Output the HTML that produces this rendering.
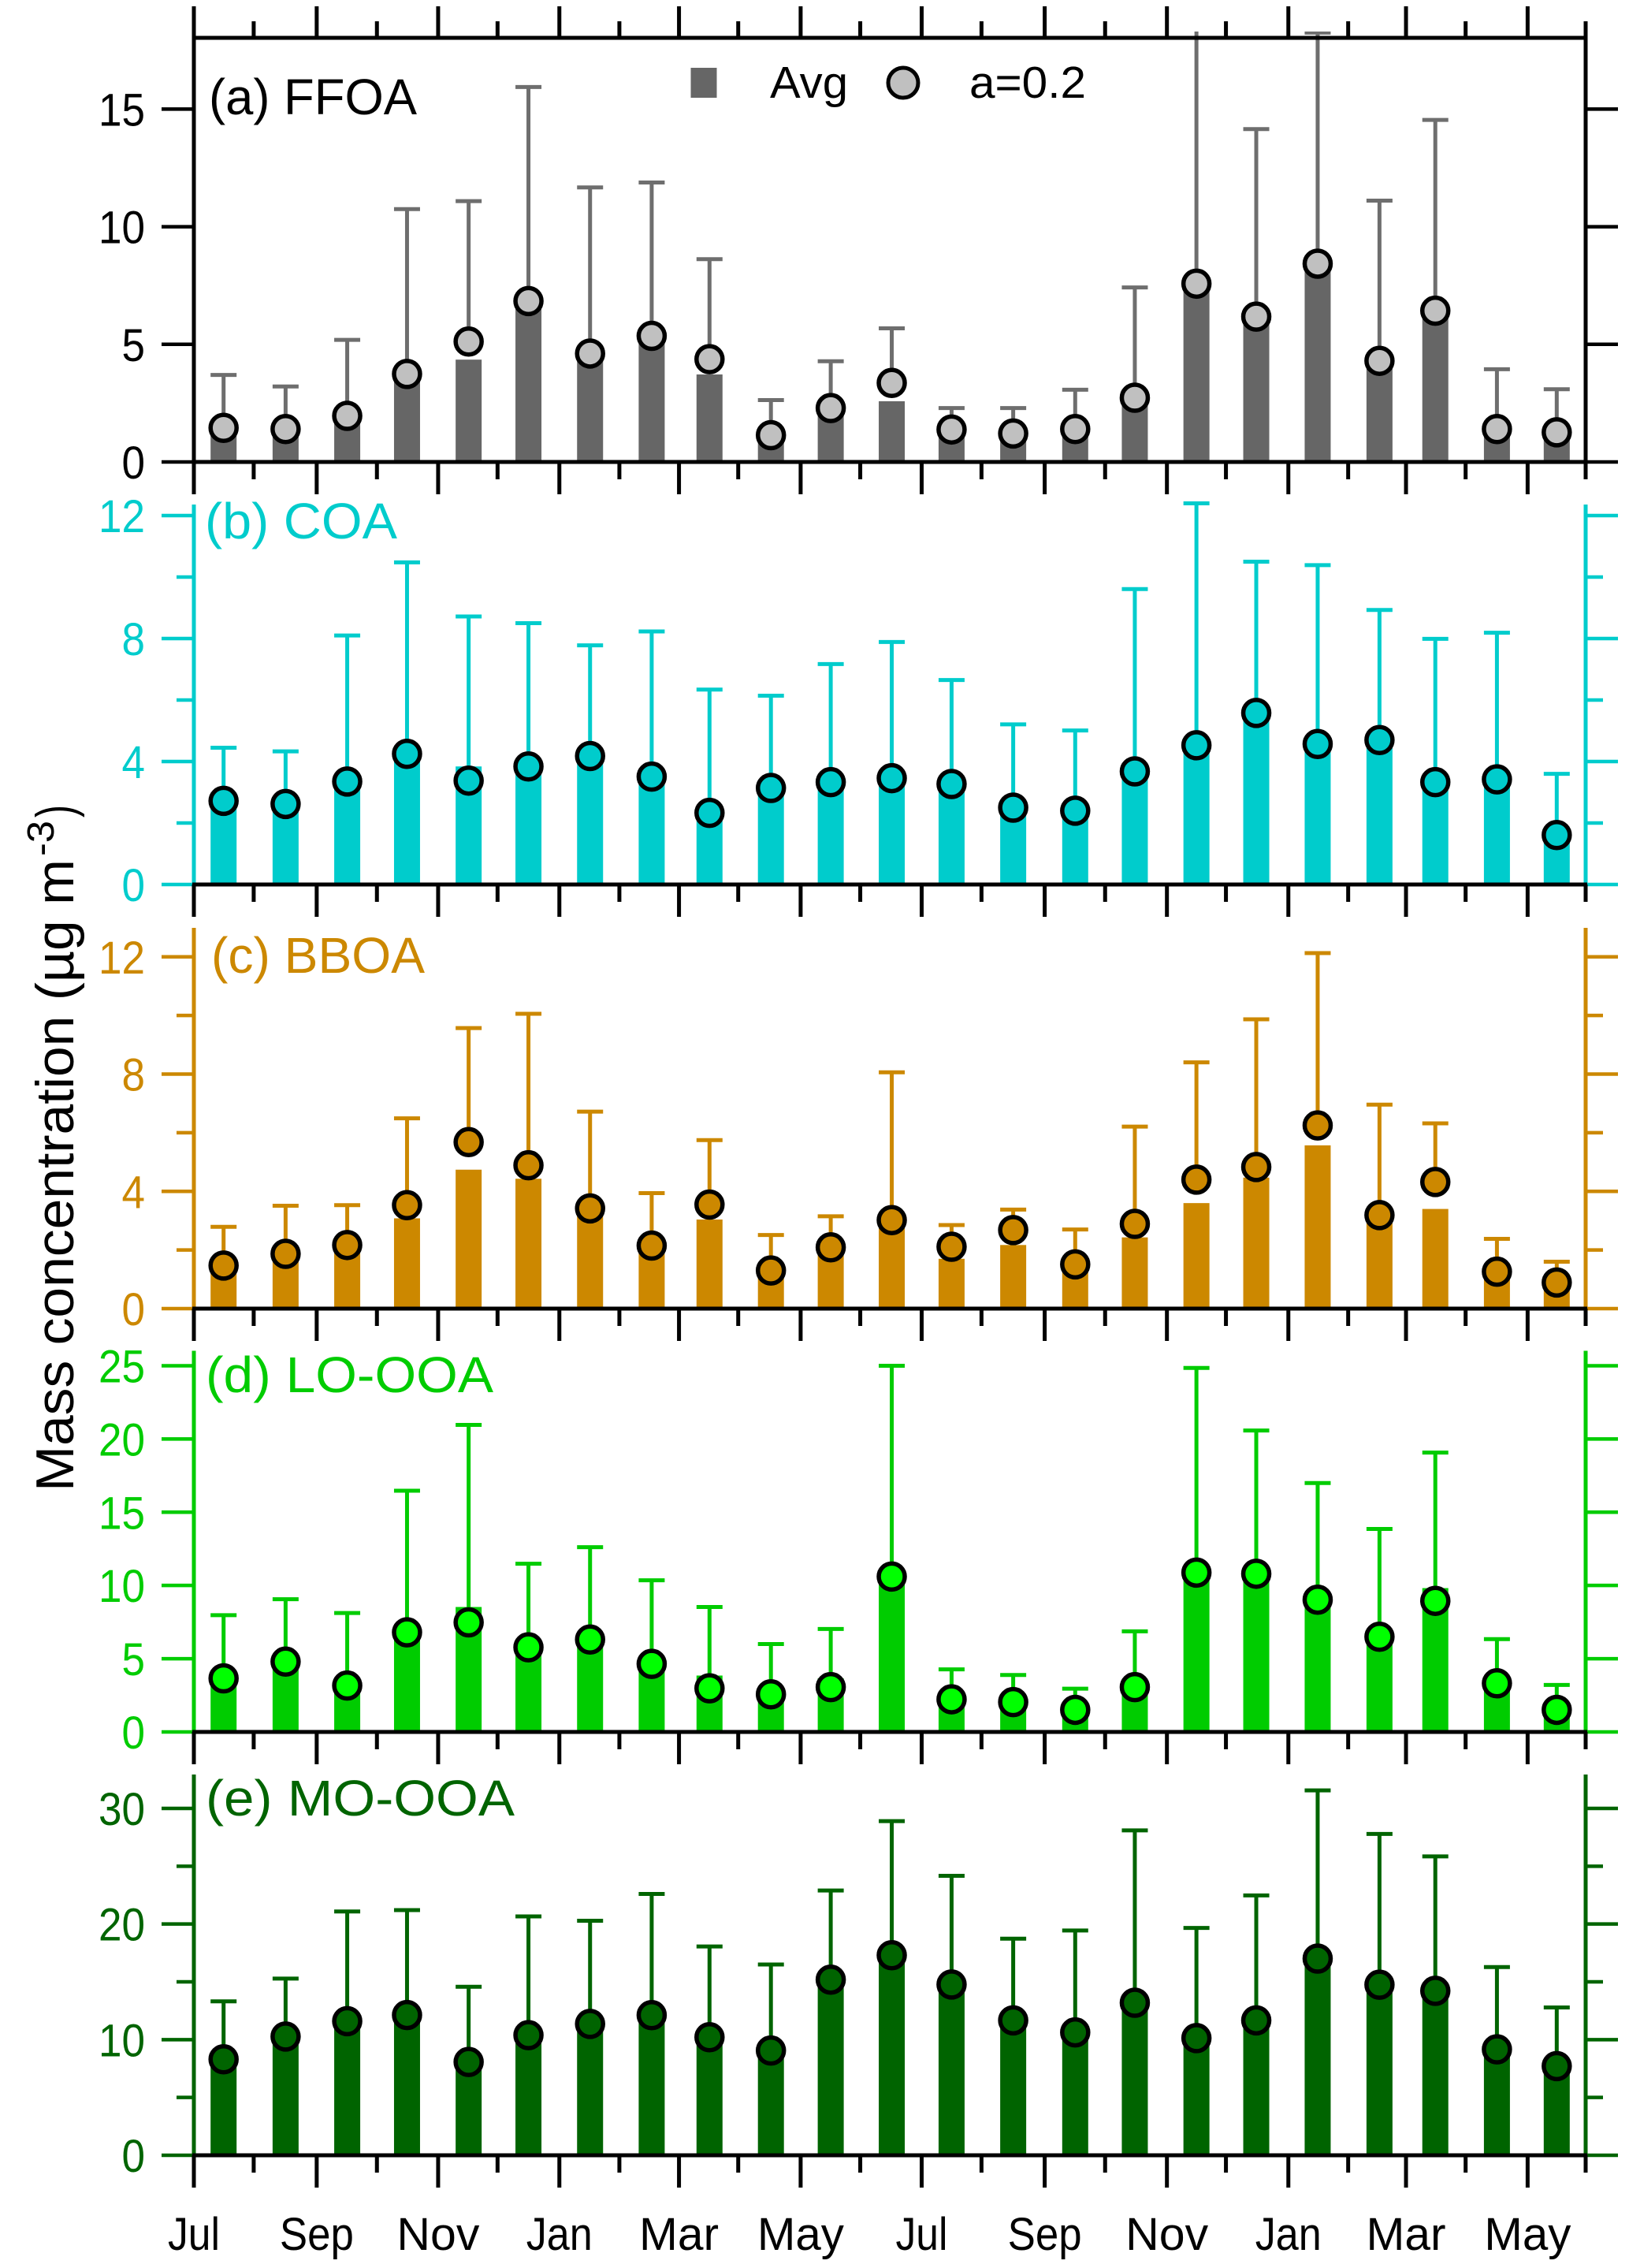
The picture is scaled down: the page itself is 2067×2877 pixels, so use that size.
<!DOCTYPE html>
<html lang="en">
<head>
<meta charset="utf-8">
<title>Monthly OA factor mass concentration</title>
<style>
html,body{margin:0;padding:0;background:#fff}
svg{display:block}
text{font-family:"Liberation Sans",sans-serif}
</style>
</head>
<body>
<svg id="chart" xmlns="http://www.w3.org/2000/svg" width="2067" height="2877" viewBox="0 0 2067 2877">
  <defs>
    <clipPath id="clip-a"><rect x="200" y="40" width="1860" height="600"/></clipPath>
  </defs>
  <rect x="0" y="0" width="2067" height="2877" fill="#ffffff"/>
  <g id="plot"></g>

  <text x="265" y="145" font-size="64" textLength="264" lengthAdjust="spacingAndGlyphs" fill="#000000">(a) FFOA</text>
  <text x="260" y="683" font-size="64" textLength="244" lengthAdjust="spacingAndGlyphs" fill="#00cccc">(b) COA</text>
  <text x="268" y="1234" font-size="64" textLength="271" lengthAdjust="spacingAndGlyphs" fill="#cc8800">(c) BBOA</text>
  <text x="261" y="1766" font-size="64" textLength="365" lengthAdjust="spacingAndGlyphs" fill="#00cc00">(d) LO-OOA</text>
  <text x="261" y="2303" font-size="64" textLength="392" lengthAdjust="spacingAndGlyphs" fill="#006400">(e) MO-OOA</text>

  <g>
    <rect x="876.5" y="86" width="33" height="38" fill="#666666"/>
    <text x="977" y="124" font-size="57" textLength="99" lengthAdjust="spacingAndGlyphs">Avg</text>
    <circle cx="1146" cy="105" r="19" fill="#c0c0c0" stroke="#000000" stroke-width="5"/>
    <text x="1230" y="124" font-size="57" textLength="148" lengthAdjust="spacingAndGlyphs">a=0.2</text>
  </g>

  <text transform="rotate(-90)" fill="#000000"><tspan x="-1892" y="93" font-size="68" textLength="802" lengthAdjust="spacingAndGlyphs">Mass concentration (µg m</tspan><tspan x="-1086" y="68" font-size="48" textLength="45" lengthAdjust="spacingAndGlyphs">-3</tspan><tspan x="-1037" y="93" font-size="68" textLength="16" lengthAdjust="spacingAndGlyphs">)</tspan></text>
</svg>

<script>
// ---- x axis data (days since the first July) ----
const months = ['Jul','Aug','Sep','Oct','Nov','Dec','Jan','Feb','Mar','Apr','May','Jun','Jul','Aug','Sep','Oct','Nov','Dec','Jan','Feb','Mar','Apr','May'];
const barDays = [14.9,46,76.9,106.9,137.8,167.8,198.7,229.6,258.6,289.4,319.4,350,380,410.9,442,471.9,502.8,532.8,563.6,594.6,622.6,653.5,683.5];
const tickDays = [0,30,61.6,91.8,122.5,152.3,183.3,213.4,243.3,273,304.3,334.2,365,395,426.7,457,488,517.6,548.9,578.9,607.9,637.8,668.9,698];
const tickLabels = ['Jul','','Sep','','Nov','','Jan','','Mar','','May','','Jul','','Sep','','Nov','','Jan','','Mar','','May',''];

// ---- series values ----
const ffoaAvg = [1.4,1.35,1.9,3.7,4.35,6.8,4.55,5.3,3.72,1.1,2.25,2.58,1.35,1.2,1.35,2.7,7.5,6.15,8.4,4.25,6.4,1.35,1.25];
const ffoaA02 = [1.45,1.40,1.96,3.74,5.12,6.84,4.61,5.36,4.37,1.14,2.29,3.36,1.38,1.21,1.40,2.73,7.58,6.18,8.43,4.30,6.43,1.40,1.26];
const ffoaUpper = [3.70,3.21,5.19,10.75,11.09,15.94,11.67,11.88,8.62,2.63,4.28,5.68,2.29,2.29,3.07,7.42,18.4,14.15,18.25,11.11,14.54,3.94,3.09];

const coaAvg = [2.7,2.6,3.3,4.2,3.84,3.85,4.15,3.5,2.3,3.1,3.3,3.45,3.25,2.5,2.4,3.65,4.5,5.55,4.55,4.65,3.3,3.4,1.6];
const coaA02 = [2.72,2.62,3.35,4.25,3.38,3.84,4.18,3.51,2.33,3.14,3.33,3.46,3.27,2.50,2.40,3.68,4.53,5.58,4.57,4.70,3.33,3.42,1.61];
const coaUpper = [4.45,4.33,8.10,10.48,8.72,8.50,7.78,8.23,6.34,6.14,7.17,7.89,6.65,5.21,5.01,9.61,12.40,10.50,10.39,8.93,7.99,8.19,3.60];

const bboaAvg = [1.4,1.85,2.1,3.08,4.74,4.43,3.35,2.1,3.04,1.25,2.05,3.0,1.7,2.17,1.45,2.43,3.6,4.47,5.57,3.1,3.4,1.2,0.85];
const bboaA02 = [1.47,1.87,2.17,3.53,5.68,4.89,3.42,2.15,3.55,1.30,2.09,3.02,2.11,2.68,1.51,2.89,4.40,4.83,6.25,3.19,4.32,1.26,0.89];
const bboaUpper = [2.79,3.51,3.53,6.49,9.57,10.06,6.72,3.94,5.75,2.51,3.15,8.06,2.85,3.38,2.70,6.21,8.40,9.87,12.13,6.96,6.32,2.38,1.60];

const loAvg = [3.6,4.75,3.1,6.75,8.53,5.75,6.3,4.6,3.85,2.5,3.66,10.55,2.2,2.0,1.45,3.0,10.85,10.75,9.0,6.45,9.82,3.3,1.45];
const loA02 = [3.66,4.80,3.17,6.80,7.48,5.78,6.31,4.65,2.98,2.57,3.06,10.61,2.23,2.04,1.51,3.06,10.88,10.80,9.03,6.50,8.95,3.32,1.51];
const loUpper = [7.97,9.06,8.12,16.47,20.96,11.48,12.61,10.35,8.53,6.0,7.03,25.0,4.27,3.89,2.95,6.87,24.85,20.58,16.99,13.86,19.07,6.34,3.21];

const moAvg = [8.2,10.2,11.5,12.1,8.0,10.3,11.3,12.1,10.15,9.0,15.1,17.2,14.7,11.6,10.6,13.1,10.1,11.6,16.9,14.7,14.2,9.1,7.65];
const moA02 = [8.30,10.27,11.60,12.13,8.07,10.39,11.36,12.12,10.21,9.06,15.19,17.30,14.77,11.67,10.63,13.19,10.13,11.67,17.01,14.75,14.22,9.16,7.71];
const moUpper = [13.31,15.28,21.08,21.20,14.57,20.66,20.28,22.6,18.06,16.5,22.9,28.9,24.17,18.73,19.44,28.1,19.66,22.47,31.56,27.79,25.85,16.28,12.78];

// ---- y tick values ----
const ffoaMajor = [0,5,10,15];
const ffoaMinor = [];
const coaMajor = [0,4,8,12];
const coaMinor = [2,6,10];
const bboaMajor = [0,4,8,12];
const bboaMinor = [2,6,10];
const loMajor = [0,5,10,15,20,25];
const loMinor = [];
const moMajor = [0,10,20,30];
const moMinor = [5,15,25];

// ---- layout ----
const NS = 'http://www.w3.org/2000/svg';
const plot = document.getElementById('plot');
const LEFT = 246, RIGHT = 2012, DAY_MAX = 698;
const MAJOR = 41, MINOR = 22, BAR_W = 33;
const DIGIT_W = 29.5;
const monthLabelWidth = {Jul:66, Sep:94, Nov:105, Jan:84, Mar:101, May:110};
const xScale = d => LEFT + d / DAY_MAX * (RIGHT - LEFT);

const panels = [
  {key:'ffoa', top:48, bottom:586, yMax:18.03, axis:'#000000', bar:'#666666', err:'#6e6e6e', dot:'#c0c0c0', avg:ffoaAvg, a02:ffoaA02, upper:ffoaUpper, major:ffoaMajor, minor:ffoaMinor},
  {key:'coa', top:640, bottom:1122, yMax:12.36, axis:'#00cccc', bar:'#00cccc', err:'#00cccc', dot:'#00cccc', avg:coaAvg, a02:coaA02, upper:coaUpper, major:coaMajor, minor:coaMinor},
  {key:'bboa', top:1177, bottom:1660, yMax:12.99, axis:'#cc8800', bar:'#cc8800', err:'#cc8800', dot:'#cc8800', avg:bboaAvg, a02:bboaA02, upper:bboaUpper, major:bboaMajor, minor:bboaMinor},
  {key:'lo-ooa', top:1713.5, bottom:2197, yMax:26.02, axis:'#00cc00', bar:'#00cc00', err:'#00cc00', dot:'#00ff00', avg:loAvg, a02:loA02, upper:loUpper, major:loMajor, minor:loMinor},
  {key:'mo-ooa', top:2251, bottom:2734, yMax:32.93, axis:'#006400', bar:'#006400', err:'#006400', dot:'#006400', avg:moAvg, a02:moA02, upper:moUpper, major:moMajor, minor:moMinor}
];

function make(tag, attrs, parent){
  const el = document.createElementNS(NS, tag);
  for (const k in attrs) el.setAttribute(k, attrs[k]);
  parent.appendChild(el);
  return el;
}

function line(x1, y1, x2, y2, color, width, parent){
  return make('line', {x1, y1, x2, y2, stroke:color, 'stroke-width':width}, parent);
}

panels.forEach((p, idx) => {
  const yScale = v => p.bottom - v / p.yMax * (p.bottom - p.top);

  const g = make('g', {}, plot);
  
  

  const marks = make('g', idx === 0 ? {'clip-path':'url(#clip-a)'} : {}, g);
  
  

  // error bars, bars and markers
  barDays.forEach((d, i) => {
    const cx = xScale(d);
    const stem = line(cx, yScale(p.a02[i]), cx, yScale(p.upper[i]), p.err, 5, marks);
    
    

    const cap = line(cx - BAR_W / 2, yScale(p.upper[i]), cx + BAR_W / 2, yScale(p.upper[i]), p.err, 5, marks);
    
    

    const bar = make('rect', {x:cx - BAR_W / 2, y:yScale(p.avg[i]), width:BAR_W, height:p.bottom - yScale(p.avg[i]), fill:p.bar}, marks);
    
    
  });

  barDays.forEach((d, i) => {
    const dot = make('circle', {cx:xScale(d), cy:yScale(p.a02[i]), r:16.5, fill:p.dot, stroke:'#000000', 'stroke-width':5.5}, marks);
    
    
  });

  // vertical axes
  const leftAxis = line(LEFT, p.top, LEFT, p.bottom, p.axis, 5, g);
  
  

  const rightAxis = line(RIGHT, p.top, RIGHT, p.bottom, p.axis, 5, g);
  
  

  // y ticks
  p.major.forEach(v => {
    const y = yScale(v);
    const l = line(LEFT - MAJOR, y, LEFT, y, p.axis, 4.5, g);
    
    

    const r = line(RIGHT, y, RIGHT + MAJOR, y, p.axis, 4.5, g);
    
    

    const label = String(v);
    const t = make('text', {x:184, y:y + 21, 'text-anchor':'end', 'font-size':58, fill:p.axis, textLength:DIGIT_W * label.length, lengthAdjust:'spacingAndGlyphs'}, g);
    t.textContent = label;
    
    
  });

  p.minor.forEach(v => {
    const y = yScale(v);
    const l = line(LEFT - MINOR, y, LEFT, y, p.axis, 4.5, g);
    
    

    const r = line(RIGHT, y, RIGHT + MINOR, y, p.axis, 4.5, g);
    
    
  });

  // zero line and x ticks
  const zero = line(LEFT - 2, p.bottom, RIGHT + 2, p.bottom, '#000000', 5, g);
  
  

  tickDays.forEach((d, i) => {
    const x = xScale(d);
    const isMajor = i % 2 === 0;
    const tick = line(x, p.bottom, x, p.bottom + (isMajor ? MAJOR : MINOR), '#000000', 5, g);
    
    

    if (idx === 0) {
      const topTick = line(x, p.top, x, p.top - (isMajor ? MAJOR - 1 : MINOR - 1), '#000000', 5, g);
      
      
    }
  });

  if (idx === 0) {
    const topAxis = line(LEFT - 2, p.top, RIGHT + 2, p.top, '#000000', 5, g);
    
    
  }
});

// bottom month labels
tickDays.forEach((d, i) => {
  if (!tickLabels[i]) return;
  const t = make('text', {x:xScale(d), y:2854, 'text-anchor':'middle', 'font-size':58, fill:'#000000', textLength:monthLabelWidth[tickLabels[i]], lengthAdjust:'spacingAndGlyphs'}, plot);
  t.textContent = tickLabels[i];
  
  
});
</script>
</body>
</html>
